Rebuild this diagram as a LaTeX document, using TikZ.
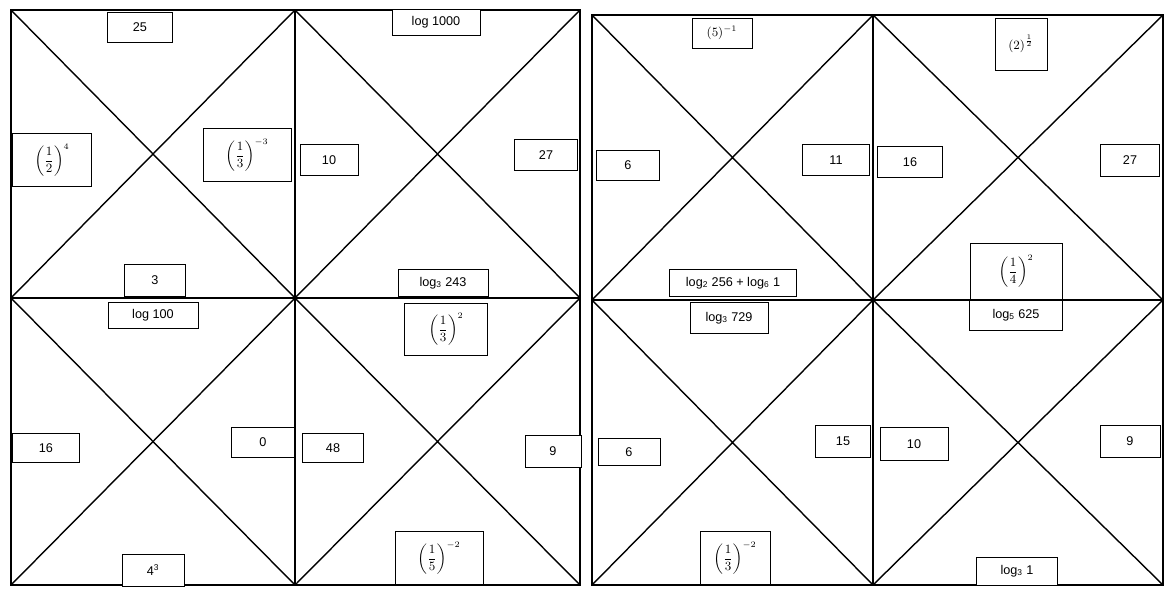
\documentclass[tikz,border=0pt]{standalone}
\usepackage{amsmath}
\usepackage{fontspec}
\setmainfont{Liberation Sans}
\usetikzlibrary{positioning}

\tikzset{
  card/.style={draw, fill=white, line width=0.6pt, inner sep=1pt, font=\small},
  sz/.style 2 args={minimum width=#1*0.025cm, minimum height=#2*0.025cm},
}

\begin{document}
\begin{tikzpicture}[x=0.025cm, y=-0.025cm]
  \useasboundingbox (0,0) rectangle (1167,588);

  % left sheet
  \foreach \xa/\xb in {11/295,295/580}{
    \foreach \ya/\yb in {10/298,298/585}{
      \draw[line width=1.1pt] (\xa,\ya) rectangle (\xb,\yb);
      \draw[line width=1pt] (\xa,\ya) -- (\xb,\yb) (\xa,\yb) -- (\xb,\ya);
    }
  }
  \node[card, sz={65}{30}] (lA) at (140,27) {25};
  \node[card, sz={79}{53}] (lB) at (52,160) {$\displaystyle\left(\frac{1}{2}\right)^{4}$};
  \node[card, sz={88}{53}] (lC) at (247,155) {$\displaystyle\left(\frac{1}{3}\right)^{-3}$};
  \node[card, sz={61}{32}] (lD) at (155,280) {3};
  \node[card, sz={88}{26}] (lE) at (436,22) {log 1000};
  \node[card, sz={58}{31}] (lF) at (329,160) {10};
  \node[card, sz={63}{31}] (lG) at (546,155) {27};
  \node[card, sz={90}{27}] (lH) at (443,283) {log\textsubscript{3} 243};
  \node[card, sz={90}{26}] (lI) at (153,315) {log 100};
  \node[card, sz={67}{29}] (lJ) at (46,448) {16};
  \node[card, sz={63}{30}] (lK) at (263,442) {0};
  \node[card, sz={62}{32}] (lL) at (153,570) {4\textsuperscript{3}};
  \node[card, sz={83}{52}] (lM) at (446,329) {$\displaystyle\left(\frac{1}{3}\right)^{2}$};
  \node[card, sz={61}{29}] (lN) at (333,448) {48};
  \node[card, sz={56}{32}] (lO) at (553,451) {9};
  \node[card, sz={88}{53}] (lP) at (439,558) {$\displaystyle\left(\frac{1}{5}\right)^{-2}$};

  % right sheet
  \foreach \xa/\xb in {592/873,873/1163}{
    \foreach \ya/\yb in {15/300,300/585}{
      \draw[line width=1.1pt] (\xa,\ya) rectangle (\xb,\yb);
      \draw[line width=1pt] (\xa,\ya) -- (\xb,\yb) (\xa,\yb) -- (\xb,\ya);
    }
  }
  \node[card, sz={60}{30}] (rA) at (722,33) {$(5)^{-1}$};
  \node[card, sz={63}{30}] (rB) at (628,165) {6};
  \node[card, sz={67}{31}] (rC) at (836,160) {11};
  \node[card, sz={127}{27}] (rD) at (733,283) {log\textsubscript{2} 256 + log\textsubscript{6} 1};
  \node[card, sz={52}{52}] (rE) at (1021,44) {$\displaystyle(2)^{\frac{1}{2}}$};
  \node[card, sz={65}{31}] (rF) at (910,162) {16};
  \node[card, sz={59}{32}] (rG) at (1130,160) {27};
  \node[card, sz={92}{56}] (rH) at (1016,271) {$\displaystyle\left(\frac{1}{4}\right)^{2}$};
  \node[card, sz={78}{31}] (rI) at (729,318) {log\textsubscript{3} 729};
  \node[card, sz={62}{27}] (rJ) at (629,452) {6};
  \node[card, sz={55}{32}] (rK) at (843,441) {15};
  \node[card, sz={70}{53}] (rL) at (735,558) {$\displaystyle\left(\frac{1}{3}\right)^{-2}$};
  \node[card, sz={93}{30}] (rM) at (1016,315) {log\textsubscript{5} 625};
  \node[card, sz={68}{33}] (rN) at (914,444) {10};
  \node[card, sz={60}{32}] (rO) at (1130,441) {9};
  \node[card, sz={81}{28}] (rP) at (1017,571) {log\textsubscript{3} 1};
\end{tikzpicture}
\end{document}
